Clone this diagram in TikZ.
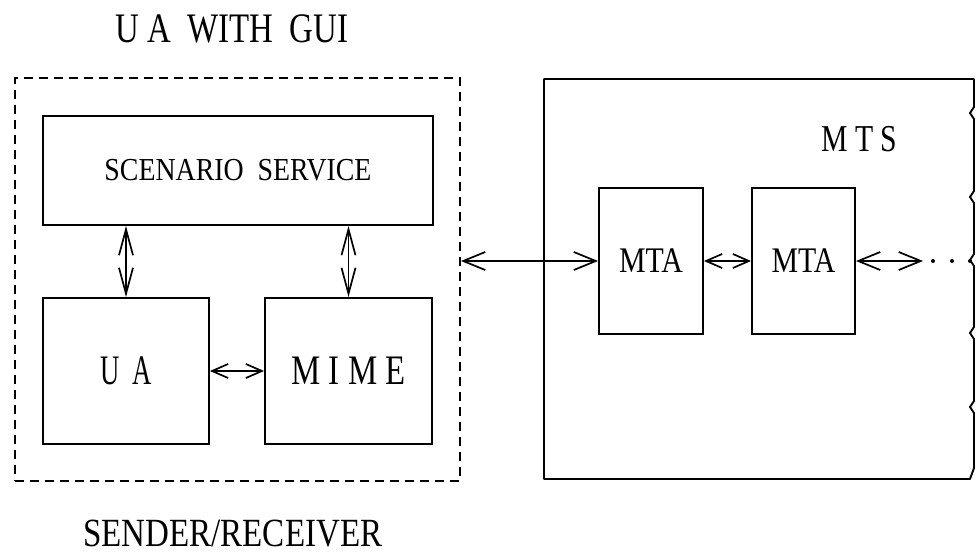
\documentclass[tikz,border=0pt]{standalone}
\usepackage{fontspec}
\setmainfont{Liberation Serif}
\usetikzlibrary{arrows.meta}
\newcommand{\fw}[3]{{\fontsize{#2}{#2}\selectfont\resizebox{#1}{\height}{#3}}}
\begin{document}
\begin{tikzpicture}[x=1pt,y=-1pt,
  box/.style={draw,line width=1.9pt,inner sep=0pt,anchor=center},
  lbl/.style={inner sep=0pt,anchor=base west},
  bigarr/.style={line width=1.7pt,{Straight Barb[length=22pt,width=18pt,line width=1.7pt]}-{Straight Barb[length=22pt,width=18pt,line width=1.7pt]}},
  smallarr/.style={line width=1.7pt,{Straight Barb[length=16pt,width=14pt,line width=1.7pt]}-{Straight Barb[length=16pt,width=14pt,line width=1.7pt]}},
  varr/.style={line width=1.7pt,{Straight Barb[length=26pt,width=14pt,line width=1.7pt]}-{Straight Barb[length=26pt,width=14pt,line width=1.7pt]}}]
\useasboundingbox (0,0) rectangle (976,556);

% titles
\node[lbl] (title) at (115,43) {\fw{233pt}{42pt}{U A\ \ WITH\ \ GUI}};
\node[lbl] (sender) at (83,546) {\fw{299pt}{40pt}{SENDER/RECEIVER}};

% dashed UA with GUI box
\node[box,dashed,dash pattern=on 9pt off 6pt,minimum width=445pt,minimum height=403pt] (gui) at (237.5,279.5) {};

\node[box,minimum width=390pt,minimum height=109pt] (scen) at (238,170.5) {\fw{267pt}{32pt}{SCENARIO\ \ SERVICE}};
\node[box,minimum width=166pt,minimum height=146pt] (ua) at (126,371) {\fw{52pt}{42pt}{U\ \ A}};
\node[box,minimum width=167pt,minimum height=146pt] (mime) at (348.5,371) {\fw{114pt}{42pt}{M I M E}};

\draw[varr] (scen.south -| ua.north) -- (ua.north);
\draw[varr] (scen.south -| mime.north) -- (mime.north);
\draw[smallarr] (ua.east) -- (mime.west);

% MTS box with broken right edge
\draw[line width=1.9pt,line join=round] (974,79) -- (544,79) -- (544,479) -- (970,479) -- (974,468)
  -- (974,413) -- (970,407) -- (974,401)
  -- (974,339) -- (970,333) -- (974,327)
  -- (974,266) -- (970,260) -- (974,254)
  -- (974,203) -- (970,197) -- (974,191)
  -- (974,119) -- (970,113) -- (974,107) -- (974,79);
\node[lbl] (mts) at (821,152) {\fw{76pt}{38pt}{M T S}};

\node[box,minimum width=104pt,minimum height=146pt] (mta1) at (651,261) {\fw{64pt}{36pt}{MTA}};
\node[box,minimum width=103pt,minimum height=146pt] (mta2) at (803.5,261) {\fw{64pt}{36pt}{MTA}};

\draw[bigarr] (gui.east |- mta1.west) -- (mta1.west);
\draw[smallarr] (mta1.east) -- (mta2.west);
\coordinate (out) at (923,261);
\draw[bigarr] (mta2.east) -- (out);
\foreach \x in {933,952,970} \fill (\x,261) circle (2pt);
\end{tikzpicture}
\end{document}
